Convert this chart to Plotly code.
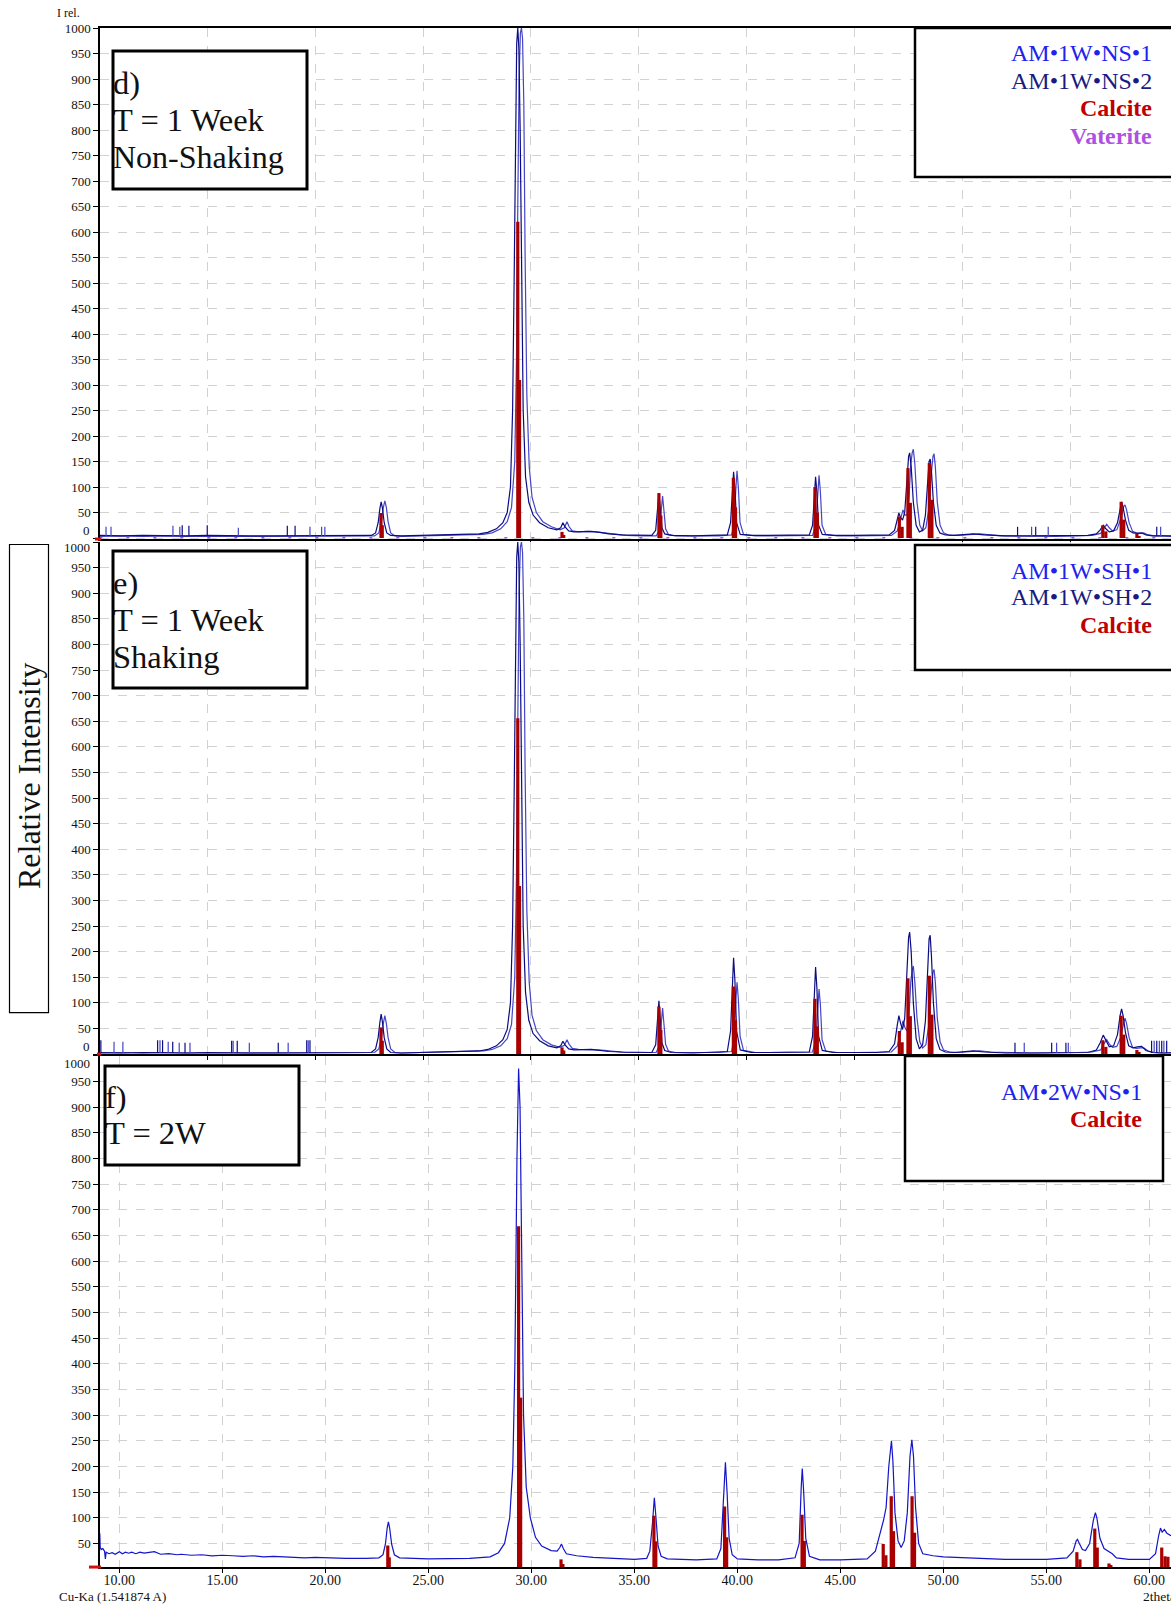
import plotly.graph_objects as go

W, H = 1171, 1606
FONT = "Liberation Serif"

# ---------------- panel d) 1 week, non-shaking ----------------
d_ns2_x = [10.0, 11, 12, 13, 14, 15, 16, 17, 18, 19, 20, 21, 22, 22.6,
           22.8, 22.92, 23.0, 23.06, 23.12, 23.2, 23.32, 23.5,
           24, 25, 26, 27, 27.6, 28.0, 28.4, 28.7, 28.9, 29.05, 29.15, 29.22, 29.28, 29.34, 29.39,
           29.44, 29.5, 29.56, 29.64, 29.75, 29.9, 30.1, 30.4, 30.8, 31.2,
           31.38, 31.48, 31.58, 31.75, 32.0, 32.4, 32.8, 33.2, 33.6, 34.2, 35.0, 35.6,
           35.78, 35.87, 35.93, 35.99, 36.07, 36.2, 36.5,
           37.5, 38.5, 39.1, 39.25, 39.33, 39.39, 39.45, 39.53, 39.7, 40.2,
           41, 42, 42.9, 43.05, 43.13, 43.19, 43.25, 43.33, 43.5, 44,
           45, 46, 46.6, 46.85, 46.97, 47.05, 47.13, 47.22, 47.32, 47.42, 47.5, 47.55, 47.62,
           47.72, 47.85, 48.0, 48.15, 48.28, 48.38, 48.45, 48.5, 48.56, 48.65, 48.78, 48.95,
           49.2, 49.6, 50, 50.5, 51, 51.5, 52, 53, 54, 55, 55.8, 56.2, 56.38, 56.52, 56.64,
           56.8, 57.0, 57.18, 57.3, 57.37, 57.44, 57.55, 57.7, 57.9, 58.1, 58.3, 58.5, 58.8,
           59.2, 59.66]
d_ns2_y = [5, 4, 5, 4, 4, 5, 4, 4, 4, 4, 4, 5, 4, 5,
           10, 30, 58, 71, 58, 30, 10, 5,
           4, 5, 5, 6, 8, 11, 18, 30, 50, 100, 250, 500, 800, 970, 1000,
           960, 800, 500, 250, 120, 70, 45, 30, 20, 16,
           20, 30, 22, 14, 12, 12, 13, 11, 8, 6, 5, 5,
           15, 55, 88, 60, 20, 8, 5,
           4, 5, 6, 30, 100, 130, 100, 30, 7, 5,
           5, 5, 6, 25, 90, 120, 90, 25, 7, 5,
           5, 5, 6, 15, 38, 49, 40, 35, 50, 110, 160, 167, 140,
           70, 25, 12, 15, 45, 110, 150, 155, 130, 70, 25, 10,
           6, 5, 6, 8, 6, 5, 4, 4, 4, 4, 5, 8, 16, 25, 18,
           12, 14, 30, 60, 71, 60, 35, 15, 10, 9, 10, 6, 4,
           4, 4]

d_ns1_x = [10.0, 11, 12, 13, 14, 15, 16, 17, 18, 19, 20, 21, 22, 22.75,
           22.95, 23.07, 23.16, 23.23, 23.3, 23.38, 23.5, 23.7,
           24, 25, 26, 27, 27.8, 28.2, 28.6, 28.9, 29.1, 29.25, 29.33, 29.39, 29.45, 29.51, 29.56,
           29.61, 29.67, 29.73, 29.81, 29.92, 30.05, 30.25, 30.55, 30.95, 31.35,
           31.55, 31.67, 31.77, 31.92, 32.2, 32.6, 33.0, 33.4, 33.8, 34.4, 35.2, 35.8,
           35.95, 36.04, 36.1, 36.16, 36.24, 36.37, 36.7,
           37.7, 38.7, 39.3, 39.42, 39.5, 39.55, 39.61, 39.69, 39.85, 40.4,
           41, 42, 43.05, 43.2, 43.29, 43.35, 43.41, 43.49, 43.66, 44.2,
           45, 46, 46.7, 46.98, 47.12, 47.24, 47.33, 47.42, 47.52, 47.6, 47.67, 47.72, 47.79,
           47.89, 48.02, 48.15, 48.3, 48.45, 48.56, 48.63, 48.68, 48.74, 48.83, 48.96, 49.12,
           49.4, 49.8, 50.3, 50.8, 51.3, 51.8, 52.3, 53.3, 54.3, 55.3, 56.0, 56.4, 56.55, 56.68,
           56.8, 56.95, 57.15, 57.35, 57.47, 57.53, 57.6, 57.72, 57.88, 58.05, 58.25, 58.4, 58.6,
           58.9, 59.3, 59.66]
d_ns1_y = [3, 4, 3, 4, 3, 3, 4, 3, 3, 4, 3, 4, 3, 4,
           10, 32, 60, 73, 60, 32, 10, 4,
           3, 4, 4, 5, 7, 10, 18, 32, 60, 150, 350, 650, 900, 990, 1000,
           980, 850, 550, 280, 140, 80, 50, 32, 22, 16,
           20, 32, 22, 14, 12, 13, 12, 10, 7, 5, 4, 4,
           15, 52, 82, 55, 18, 7, 4,
           4, 4, 6, 30, 100, 132, 100, 30, 7, 4,
           4, 4, 5, 25, 92, 123, 92, 25, 7, 4,
           4, 4, 5, 14, 38, 55, 45, 45, 80, 145, 168, 174, 145,
           70, 25, 14, 20, 60, 130, 160, 165, 140, 70, 25, 10,
           5, 5, 7, 8, 6, 4, 4, 3, 3, 4, 5, 9, 20, 27, 20,
           14, 16, 40, 62, 65, 55, 30, 13, 10, 9, 10, 6,
           4, 4, 3]

d_ns2_spike_x = [13.84, 14.15, 15.0, 18.71, 19.07, 52.55, 53.39, 59.0]
d_ns2_spike_h = [25, 24, 25, 24, 24, 22, 22, 22]
d_ns1_spike_x = [10.31, 10.54, 13.41, 13.73, 16.44, 19.76, 20.3, 20.45, 53.2, 53.97, 59.18]
d_ns1_spike_h = [22, 22, 24, 22, 20, 22, 22, 22, 22, 22, 22]

# ---------------- panel e) 1 week, shaking ----------------
e_sh2_x = d_ns2_x
e_sh2_y = [3, 2, 3, 2, 2, 3, 2, 2, 2, 2, 2, 3, 2, 3,
           10, 32, 62, 78, 62, 32, 10, 3,
           2, 3, 3, 4, 6, 9, 16, 28, 48, 100, 250, 500, 800, 970, 1000,
           960, 800, 500, 250, 120, 66, 40, 26, 16, 12,
           16, 25, 18, 10, 8, 8, 9, 7, 5, 4, 3, 3,
           18, 65, 104, 70, 22, 7, 3,
           2, 3, 5, 45, 145, 188, 145, 45, 8, 3,
           3, 3, 4, 35, 130, 170, 130, 35, 7, 3,
           3, 3, 5, 20, 55, 75, 60, 48, 70, 160, 228, 238, 200,
           100, 30, 10, 18, 65, 165, 225, 232, 190, 100, 30, 9,
           4, 3, 4, 6, 4, 3, 2, 2, 2, 2, 3, 8, 22, 37, 26,
           14, 16, 38, 75, 88, 75, 42, 16, 12, 14, 15, 7, 3,
           2, 2]
e_sh1_x = d_ns1_x
e_sh1_y = [2, 3, 2, 3, 2, 2, 3, 2, 2, 3, 2, 3, 2, 3,
           10, 32, 60, 75, 60, 32, 10, 3,
           2, 3, 3, 4, 6, 9, 16, 30, 58, 150, 350, 650, 900, 990, 1000,
           980, 850, 550, 280, 140, 76, 46, 28, 18, 13,
           17, 28, 19, 11, 9, 9, 8, 7, 5, 3, 3, 3,
           16, 56, 90, 60, 19, 6, 3,
           3, 3, 5, 35, 108, 140, 108, 35, 7, 3,
           3, 3, 4, 28, 98, 127, 98, 28, 6, 3,
           3, 3, 4, 16, 45, 65, 52, 45, 75, 140, 165, 172, 140,
           70, 24, 12, 18, 60, 130, 160, 165, 140, 70, 24, 8,
           4, 3, 5, 6, 4, 3, 3, 2, 2, 3, 4, 8, 20, 28, 20,
           13, 15, 35, 62, 70, 60, 32, 13, 11, 12, 12, 6, 3,
           2, 3, 2]

e_sh2_spike_x = [10.07, 12.70, 12.93, 13.40, 13.97, 16.13, 16.39, 18.29, 19.61, 19.76,
                 52.43, 54.13, 54.79, 58.76, 59.0, 59.23, 59.46]
e_sh2_spike_h = [27, 27, 27, 24, 22, 26, 26, 22, 27, 27, 22, 22, 22, 26, 26, 26, 26]
e_sh1_spike_x = [10.68, 11.09, 12.81, 13.19, 13.70, 14.20, 16.20, 16.95, 18.75, 19.68,
                 52.86, 54.36, 54.9, 58.88, 59.12, 59.33]
e_sh1_spike_h = [24, 24, 27, 24, 22, 22, 26, 22, 22, 27, 22, 22, 22, 26, 26, 26]

# ---------------- panel f) 2 weeks, non-shaking ----------------
f_ns1_x = [9.03, 9.05, 9.07, 9.12, 9.2, 9.28, 9.32, 9.36, 9.5, 9.65, 9.8, 10.0, 10.15, 10.3,
           10.45, 10.6, 10.8, 11.0, 11.2, 11.5, 11.7, 12.0, 12.4, 12.8, 13.0, 13.5, 14.0, 14.5,
           15.0, 15.5, 16.0, 16.5, 17.0, 17.5, 18.0, 18.5, 19.0, 19.5, 20.0, 21.0, 22.0, 22.6,
           22.8, 22.92, 23.0, 23.06, 23.12, 23.22, 23.35, 23.6,
           25, 26, 27, 28.0, 28.4, 28.7, 28.95, 29.1, 29.2, 29.3, 29.38, 29.45, 29.52, 29.62,
           29.75, 29.95, 30.2, 30.5, 30.96, 31.25, 31.38, 31.46, 31.55, 31.7, 32.2, 33, 34, 35,
           35.6, 35.75, 35.88, 35.97, 36.05, 36.15, 36.3, 36.6,
           38, 39.0, 39.2, 39.32, 39.42, 39.5, 39.6, 39.75, 40.0, 41, 42,
           42.8, 43.0, 43.1, 43.15, 43.22, 43.32, 43.5, 44, 45,
           46.3, 46.7, 46.95, 47.1, 47.22, 47.35, 47.48, 47.55, 47.65, 47.8, 47.95, 48.1, 48.25,
           48.38, 48.47, 48.55, 48.65, 48.8, 49.0, 49.5, 50, 51, 52, 53, 54, 55,
           56.0, 56.3, 56.45, 56.51, 56.6, 56.75, 56.9, 57.1, 57.28, 57.38, 57.45, 57.6, 57.8,
           58.0, 58.2, 58.4, 59, 60, 60.3, 60.45, 60.54, 60.62, 60.73, 60.85, 61.05]
f_ns1_y = [45, 70, 42, 38, 40, 35, 20, 33, 30, 32, 29, 34, 30, 33,
           31, 33, 30, 33, 31, 32, 34, 29, 30, 28, 29, 27, 28, 26,
           27, 26, 25, 26, 24, 25, 24, 23, 22, 23, 22, 21, 21, 22,
           28, 50, 80, 92, 80, 48, 28, 22,
           20, 21, 21, 24, 32, 50, 100, 200, 400, 800, 975, 900, 600, 300,
           160, 100, 62, 45, 36, 35, 42, 49, 40, 30, 26, 23, 21, 19,
           21, 35, 90, 139, 100, 45, 25, 20,
           18, 20, 40, 130, 208, 150, 60, 28, 20, 18, 18,
           22, 50, 160, 196, 150, 60, 25, 18, 18,
           20, 35, 70, 96, 120, 200, 250, 210, 110, 55, 42, 55, 110,
           220, 252, 220, 120, 50, 30, 26, 24, 22, 20, 19, 19, 19,
           22, 35, 55, 58, 50, 38, 36, 50, 95, 110, 100, 60, 40,
           35, 30, 22, 19, 19, 30, 65, 80, 72, 77, 70, 65]

# ---------------- calcite reference lines ----------------
calcite_de_pos = [23.05, 23.11, 29.39, 29.47, 31.44, 31.52, 35.93, 36.02, 39.38, 39.48,
                  43.16, 43.27, 47.07, 47.2, 47.47, 47.58, 48.46, 48.58, 56.5, 56.64,
                  57.35, 57.47, 58.08, 58.18]
calcite_d_int = [49, 25, 620, 310, 12, 6, 88, 44, 118, 60, 100, 50, 42, 22, 137, 69,
                 147, 75, 25, 13, 71, 36, 8, 4]
calcite_e_int = [52, 26, 656, 328, 13, 7, 93, 47, 132, 66, 108, 54, 45, 23, 148, 74,
                 153, 77, 27, 14, 75, 38, 8, 4]
calcite_f_pos = [23.03, 23.1, 29.38, 29.48, 31.44, 31.53, 35.95, 36.04, 39.38, 39.48,
                 43.14, 43.25, 47.08, 47.21, 47.47, 47.58, 48.48, 48.6, 56.48, 56.63,
                 57.35, 57.47, 58.04, 58.13, 60.6, 60.76, 60.9]
calcite_f_int = [46, 23, 668, 334, 19, 10, 104, 54, 122, 62, 106, 55, 49, 27, 142, 74,
                 142, 71, 33, 19, 79, 42, 11, 8, 42, 25, 24]

# vaterite reference (negligible intensity, sits on the baseline)
vaterite_x = [10.0, 59.66]
vaterite_y = [0.5, 0.5]

y_ticks = list(range(0, 1001, 50))
f_ticks = list(range(50, 1001, 50))
x_ticks_f = list(range(10, 61, 5))
x_ticklabels_f = ["%.2f" % v for v in x_ticks_f]

C_BLUE = "#4545c8"
C_NAVY = "#0c0c82"
C_F = "#1414c8"
C_CAL = "#a80000"
C_VAT = "#b050e0"


def stick_xy(pos, vals, base=0):
    xs, ys = [], []
    for p, v in zip(pos, vals):
        xs += [p, p, None]
        ys += [base, v, None]
    return xs, ys


fig = go.Figure()


def add_panel(xa, ya, traces, spikes, calc_pos, calc_int, base):
    for x, y, col in traces:
        fig.add_trace(go.Scatter(x=x, y=y, mode="lines", xaxis=xa, yaxis=ya,
                                 line=dict(color=col, width=1.2), hoverinfo="skip",
                                 showlegend=False))
    for sx, sh, col in spikes:
        xs, ys = stick_xy(sx, sh, base)
        fig.add_trace(go.Scatter(x=xs, y=ys, mode="lines", xaxis=xa, yaxis=ya,
                                 line=dict(color=col, width=1.2), hoverinfo="skip",
                                 showlegend=False))
    cx, cy = stick_xy(calc_pos, calc_int, 0)
    fig.add_trace(go.Scatter(x=cx, y=cy, mode="lines", xaxis=xa, yaxis=ya,
                             line=dict(color=C_CAL, width=3.2), hoverinfo="skip",
                             showlegend=False))


# vaterite first so it stays underneath the scans
fig.add_trace(go.Scatter(x=vaterite_x, y=vaterite_y, mode="lines", xaxis="x", yaxis="y",
                         line=dict(color=C_VAT, width=1.6, dash="3px,24px"),
                         hoverinfo="skip", showlegend=False))

add_panel("x", "y",
          [(d_ns1_x, d_ns1_y, C_BLUE), (d_ns2_x, d_ns2_y, C_NAVY)],
          [(d_ns1_spike_x, d_ns1_spike_h, C_BLUE), (d_ns2_spike_x, d_ns2_spike_h, C_NAVY)],
          calcite_de_pos, calcite_d_int, 4)
add_panel("x2", "y2",
          [(e_sh1_x, e_sh1_y, C_BLUE), (e_sh2_x, e_sh2_y, C_NAVY)],
          [(e_sh1_spike_x, e_sh1_spike_h, C_BLUE), (e_sh2_spike_x, e_sh2_spike_h, C_NAVY)],
          calcite_de_pos, calcite_e_int, 2)
add_panel("x3", "y3", [(f_ns1_x, f_ns1_y, C_F)], [], calcite_f_pos, calcite_f_int, 0)


def fx(px):
    return px / W


# vertical page position -> paper fraction (small correction for the page offset)
def fy(py):
    return 1 - ((py - 7.0) / 0.9956) / H


grid = dict(showgrid=True, gridcolor="#d2d2d2", griddash="dash", gridwidth=1)
tickfont = dict(family=FONT, size=13, color="#111")


def xaxis(anchor, rng, labels=False, mirror=False):
    ax = dict(domain=[fx(100), 1], anchor=anchor, range=rng, tickmode="array",
              tickvals=x_ticks_f, ticks="outside", ticklen=4, tickcolor="#000",
              showline=True, linecolor="#000", linewidth=1.5, zeroline=False,
              showticklabels=labels, tickfont=dict(family=FONT, size=14, color="#111"),
              mirror=mirror, **grid)
    if labels:
        ax["ticktext"] = x_ticklabels_f
        ax["ticklabelstandoff"] = -5
    return ax


def yaxis(anchor, top_px, bot_px, rng, vals, hide):
    return dict(domain=[fy(bot_px), fy(top_px)], anchor=anchor, range=rng,
                tickmode="array", tickvals=vals,
                ticktext=["" if v in hide else str(v) for v in vals],
                ticks="outside", ticklen=5, tickcolor="#000", showline=True,
                linecolor="#000", linewidth=1.5, zeroline=False, tickfont=tickfont, **grid)


fig.update_layout(
    width=W, height=H, margin=dict(l=0, r=0, t=0, b=0),
    paper_bgcolor="white", plot_bgcolor="white",
    xaxis=xaxis("y", [10.03, 59.66], mirror=True),
    yaxis=yaxis("x", 28, 539, [-2, 1000], y_ticks, [0]),
    xaxis2=xaxis("y2", [10.03, 59.66]),
    yaxis2=yaxis("x2", 542, 1054, [0, 1000], y_ticks, [0, 1000]),
    xaxis3=xaxis("y3", [9.06, 61.05], labels=True),
    yaxis3=yaxis("x3", 1055.7, 1567, [4, 1000], f_ticks, [1000]),
)

shapes = []
annotations = []


def text(px, py, s, size, color="#111", anchor="left", angle=0):
    annotations.append(dict(x=fx(px), y=fy(py), xref="paper", yref="paper", text=s,
                            showarrow=False, xanchor=anchor, yanchor="middle",
                            textangle=angle,
                            font=dict(family=FONT, size=size, color=color)))


def rect(x0, y0, x1, y1, w):
    shapes.append(dict(type="rect", xref="paper", yref="paper", x0=fx(x0), x1=fx(x1),
                       y0=fy(y1), y1=fy(y0), line=dict(color="#000", width=w),
                       fillcolor="white", layer="above"))


def seg(x0, y0, x1, y1, col, w):
    shapes.append(dict(type="line", xref="paper", yref="paper", x0=fx(x0), x1=fx(x1),
                       y0=fy(y0), y1=fy(y1), line=dict(color=col, width=w)))


# shifted y labels at the panel joins
text(92, 530, "0", 13, anchor="right")
text(92, 547, "1000", 13, anchor="right")
text(92, 1046.5, "0", 13, anchor="right")
text(92, 1063, "1000", 13, anchor="right")

text(55, 13, "I rel.", 12)
text(57, 1596, "Cu-Ka (1.541874 A)", 13)
text(1141, 1596, "2theta", 13.5)

# red calcite markers at the axis origin
seg(95, 539, 101, 539, "#d01010", 3)
seg(97, 1054, 101, 1054, "#d01010", 3)
seg(89, 1567, 101, 1567, "#d01010", 3)

# y-axis title box
rect(9.5, 544.5, 48.5, 1012.5, 1.2)
text(29, 776, "Relative Intensity", 32, angle=-90, anchor="center")

# condition boxes
rect(113, 51, 307, 189, 3)
text(111, 83, "d)", 32.5)
text(111, 120, "T = 1 Week", 32.5)
text(111, 157, "Non-Shaking", 32)

rect(113, 551, 307, 688, 3)
text(111, 583, "e)", 32.5)
text(111, 620, "T = 1 Week", 32.5)
text(111, 657, "Shaking", 32.5)

rect(105, 1066, 299, 1165, 3)
text(103, 1097, "f)", 32.5)
text(103, 1133, "T = 2W", 32.5)

# legend boxes
rect(915, 28, 1190, 177, 2.5)
text(1154, 53, "AM•1W•NS•1", 24, "#2222ee", "right")
text(1154, 81, "AM•1W•NS•2", 24, "#1a1a80", "right")
text(1154, 108, "<b>Calcite</b>", 24, "#c00000", "right")
text(1154, 136, "<b>Vaterite</b>", 24, C_VAT, "right")

rect(915, 545, 1190, 670, 2.5)
text(1154, 571, "AM•1W•SH•1", 24, "#2222ee", "right")
text(1154, 597, "AM•1W•SH•2", 24, "#1a1a80", "right")
text(1154, 625, "<b>Calcite</b>", 24, "#c00000", "right")

rect(905, 1056, 1163, 1181, 2.5)
text(1144, 1092, "AM•2W•NS•1", 24, "#2222ee", "right")
text(1144, 1119, "<b>Calcite</b>", 24, "#c00000", "right")

fig.update_layout(shapes=shapes, annotations=annotations)
fig.write_html("out.html")
